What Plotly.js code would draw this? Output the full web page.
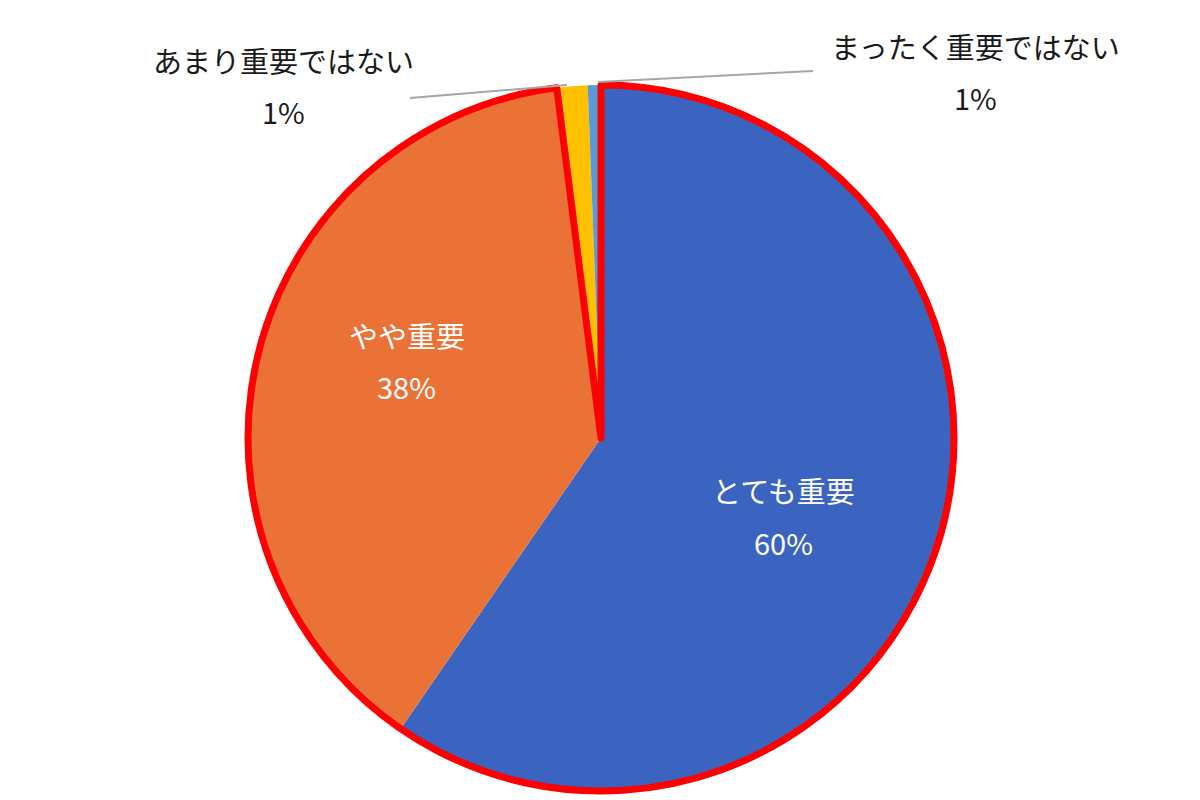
<!DOCTYPE html>
<html><head>
<meta charset="utf-8"/>
<title>pie</title>
<script src="https://cdn.plot.ly/plotly-3.0.1.min.js"></script>
<style>
    * { margin: 0px; padding: 0px }
    #chart { width: 1200px; height: 800px }
</style>
</head><body>
<div id="chart"></div>
<script>
// data (share of answers, %)
var labels = ['とても重要', 'やや重要', 'あまり重要ではない', 'まったく重要ではない'];
var values = [59.6, 38.4, 1.4, 0.6];
var colors = ['#3B64C0', '#EB7236', '#FFC000', '#5B9BD5'];

// where each label goes (paper coords) and its colour
var labelPos = [[0.653, 0.387], [0.339, 0.581], [0.236, 0.925], [0.813, 0.943]];
var labelCol = ['#ffffff', '#ffffff', '#1a1a1a', '#1a1a1a'];

var total = values.reduce(function(a, b){ return a + b; }, 0);
var font = '"Noto Sans CJK JP", "Noto Sans", sans-serif';
var dom = {x: [246/1200, 956/1200], y: [9/800, 715/800]};

var pie = {
    type: 'pie',
    labels: labels,
    values: values,
    sort: false,
    direction: 'clockwise',
    rotation: 0,
    marker: {colors: colors, line: {width: 0}},
    textinfo: 'none',
    hoverinfo: 'label+percent',
    domain: dom,
    showlegend: false
};

// red outline round the two big slices together
var outline = {
    type: 'pie',
    labels: ['a', 'b'],
    values: [values[0] + values[1], values[2] + values[3]],
    sort: false,
    direction: 'clockwise',
    rotation: 0,
    marker: {
        colors: ['rgba(0,0,0,0)', 'rgba(0,0,0,0)'],
        line: {color: ['#FF0000', 'rgba(0,0,0,0)'], width: 7}
    },
    textinfo: 'none',
    hoverinfo: 'skip',
    domain: dom,
    showlegend: false
};

var annotations = [];
for (var i = 0; i < labels.length; i++) {
    var pct = Math.round(values[i] / total * 100) + '%';
    var lines = [labels[i], pct];
    for (var j = 0; j < 2; j++) {
        annotations.push({
            xref: 'paper', yref: 'paper',
            x: labelPos[i][0], y: labelPos[i][1] - j * 0.064,
            text: lines[j], showarrow: false,
            xanchor: 'center', yanchor: 'middle',
            font: {family: font, size: 29, color: labelCol[i]}
        });
    }
}

// leader lines for the two small slices
var shapes = [
    {type: 'line', xref: 'paper', yref: 'paper', x0: 410/1200, y0: 1 - 98/800, x1: 567/1200, y1: 1 - 85/800,
     line: {color: '#A6A6A6', width: 2}},
    {type: 'line', xref: 'paper', yref: 'paper', x0: 598/1200, y0: 1 - 82/800, x1: 813/1200, y1: 1 - 71/800,
     line: {color: '#A6A6A6', width: 2}}
];

Plotly.newPlot('chart', [pie, outline], {
    width: 1200, height: 800,
    margin: {l: 0, r: 0, t: 0, b: 0},
    paper_bgcolor: '#ffffff',
    annotations: annotations,
    shapes: shapes,
    font: {family: font}
}, {displayModeBar: false, staticPlot: true});
</script>
</body></html>
